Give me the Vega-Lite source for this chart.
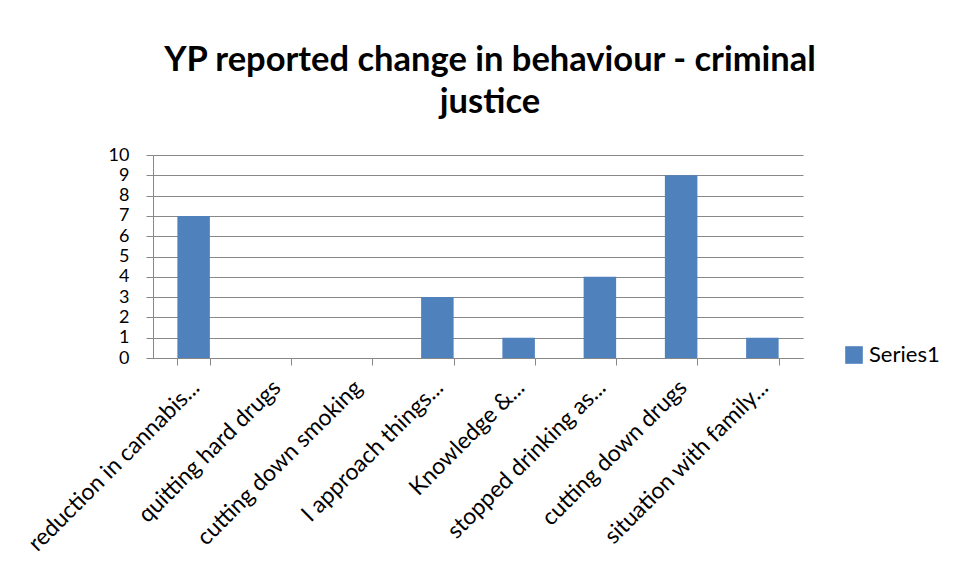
{
  "$schema": "https://vega.github.io/schema/vega-lite/v6.json",
  "width": 650,
  "height": 203,
  "autosize": {"type": "none"},
  "padding": {"left": 153, "top": 155, "right": 155, "bottom": 222},
  "background": "white",
  "title": {
    "text": ["YP reported change in behaviour - criminal", "justice"],
    "font": "Lato",
    "fontSize": 34.5,
    "fontWeight": "bold",
    "color": "black",
    "lineHeight": 42,
    "anchor": "middle",
    "dx": 12,
    "offset": 26
  },
  "data": {
    "values": [
      {"category": "reduction in cannabis...", "value": 7, "series": "Series1"},
      {"category": "quitting hard drugs", "value": 0, "series": "Series1"},
      {"category": "cutting down smoking", "value": 0, "series": "Series1"},
      {"category": "I approach things...", "value": 3, "series": "Series1"},
      {"category": "Knowledge &...", "value": 1, "series": "Series1"},
      {"category": "stopped drinking as...", "value": 4, "series": "Series1"},
      {"category": "cutting down drugs", "value": 9, "series": "Series1"},
      {"category": "situation with family...", "value": 1, "series": "Series1"}
    ]
  },
  "mark": {"type": "bar"},
  "encoding": {
    "x": {
      "field": "category",
      "type": "nominal",
      "sort": null,
      "scale": {"paddingInner": 0.6, "paddingOuter": 0.3},
      "axis": {
        "title": null,
        "labelAngle": -45,
        "labelFont": "Lato",
        "labelFontSize": 23,
        "labelColor": "black",
        "labelPadding": 11,
        "labelOffset": -6,
        "labelLimit": 400,
        "labelOverlap": false,
        "tickBand": "extent",
        "tickSize": 7,
        "tickColor": "#888888",
        "domainColor": "#888888",
        "grid": false
      }
    },
    "y": {
      "field": "value",
      "type": "quantitative",
      "scale": {"domain": [0, 10], "nice": false},
      "axis": {
        "title": null,
        "values": [0, 1, 2, 3, 4, 5, 6, 7, 8, 9, 10],
        "labelFont": "Lato",
        "labelFontSize": 18,
        "labelColor": "black",
        "labelPadding": 17,
        "labelOverlap": false,
        "labelFlush": false,
        "tickSize": 7,
        "tickColor": "#888888",
        "domainColor": "#888888",
        "gridColor": "#888888",
        "gridWidth": 1
      }
    },
    "color": {
      "field": "series",
      "type": "nominal",
      "scale": {"range": ["#4F81BD"]},
      "legend": {
        "title": null,
        "orient": "none",
        "legendX": 690,
        "legendY": 189,
        "symbolType": "square",
        "symbolSize": 310,
        "symbolStrokeWidth": 0,
        "labelFont": "Lato",
        "labelFontSize": 22,
        "labelColor": "black",
        "labelOffset": 4
      }
    }
  },
  "config": {
    "view": {"stroke": null}
  }
}
